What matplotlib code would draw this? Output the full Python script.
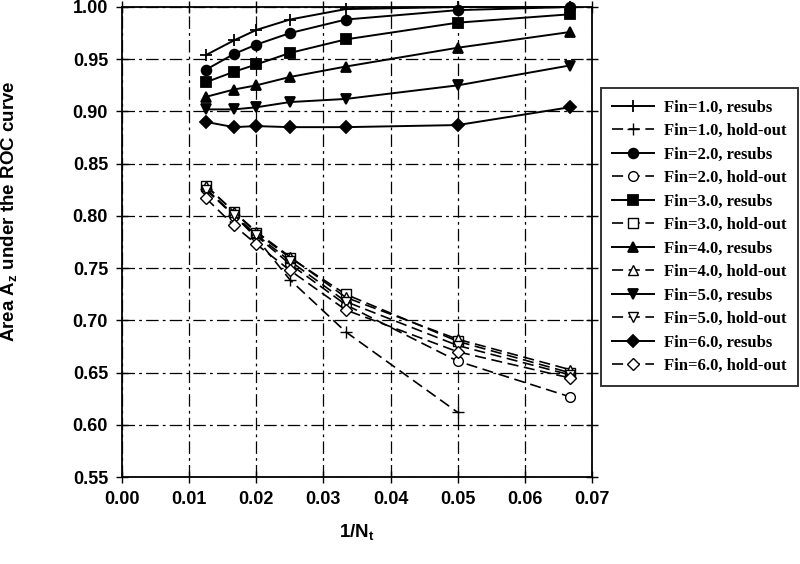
import matplotlib
matplotlib.use("Agg")
import matplotlib.pyplot as plt

# ----------------------------------------
# DATA
# ----------------------------------------
inv_nt = [1 / 80, 1 / 60, 1 / 50, 1 / 40, 1 / 30, 1 / 20, 1 / 15]

fin_labels = ["1.0", "2.0", "3.0", "4.0", "5.0", "6.0"]

resubs = [
    [0.954, 0.968, 0.978, 0.988, 0.998, 1.000, 1.000],
    [0.940, 0.955, 0.964, 0.975, 0.988, 0.997, 1.000],
    [0.928, 0.938, 0.945, 0.956, 0.969, 0.985, 0.993],
    [0.914, 0.921, 0.925, 0.933, 0.943, 0.961, 0.976],
    [0.902, 0.902, 0.904, 0.909, 0.912, 0.925, 0.944],
    [0.890, 0.885, 0.886, 0.885, 0.885, 0.887, 0.904],
]

holdout = [
    [0.826, 0.801, 0.779, 0.739, 0.689, 0.612],
    [0.826, 0.800, 0.781, 0.754, 0.715, 0.661, 0.627],
    [0.829, 0.804, 0.784, 0.760, 0.725, 0.680, 0.650],
    [0.829, 0.804, 0.785, 0.761, 0.722, 0.682, 0.653],
    [0.825, 0.801, 0.782, 0.757, 0.718, 0.676, 0.648],
    [0.817, 0.791, 0.773, 0.748, 0.710, 0.670, 0.645],
]

markers = ["+", "o", "s", "^", "v", "D"]
marker_sizes = [9, 7, 7, 7.5, 7.5, 6.5]

x_ticks = [0.00, 0.01, 0.02, 0.03, 0.04, 0.05, 0.06, 0.07]
y_ticks = [0.55, 0.60, 0.65, 0.70, 0.75, 0.80, 0.85, 0.90, 0.95, 1.00]

# ----------------------------------------
# STYLE
# ----------------------------------------
plt.rcParams["font.family"] = "Liberation Sans"
plt.rcParams["font.weight"] = "bold"
plt.rcParams["mathtext.fontset"] = "custom"
plt.rcParams["mathtext.rm"] = "Liberation Sans:bold"
plt.rcParams["mathtext.default"] = "rm"
plt.rcParams["lines.scale_dashes"] = False

fig = plt.figure(figsize=(8, 5.64), dpi=100)
ax = fig.add_axes([0.1525, 0.154, 0.5875, 0.8336])

# ----------------------------------------
# LINES
# ----------------------------------------
for i, fin in enumerate(fin_labels):
    ax.plot(inv_nt[:len(resubs[i])], resubs[i], color="black", lw=1.4,
            marker=markers[i], ms=marker_sizes[i], mfc="black", mec="black",
            mew=1.3, label=f"Fin={fin}, resubs", clip_on=False, zorder=3)
    ax.plot(inv_nt[:len(holdout[i])], holdout[i], color="black", lw=1.2,
            ls=(0, (8, 4)), marker=markers[i], ms=marker_sizes[i],
            mfc="white", mec="black", mew=1.0,
            label=f"Fin={fin}, hold-out", clip_on=False, zorder=3)

# ----------------------------------------
# AXES
# ----------------------------------------
ax.set_xlim(0, 0.07)
ax.set_ylim(0.55, 1.00)
ax.set_xticks(x_ticks)
ax.set_yticks(y_ticks)
ax.set_xticklabels([f"{v:.2f}" for v in x_ticks])
ax.set_yticklabels([f"{v:.2f}" for v in y_ticks])
ax.tick_params(axis="both", direction="inout", length=8, width=1,
               labelsize=13, top=True, right=True, pad=6)
ax.grid(True, color="black", lw=0.9, ls=(0, (9, 3, 2, 3)))
for s in ax.spines.values():
    s.set_linewidth(1.3)

ax.set_xlabel("1/N$_{t}$", fontsize=13.5, fontweight="bold", labelpad=10)
ax.set_ylabel("Area A$_{z}$ under the ROC curve", fontsize=13.5,
              fontweight="bold")
ax.yaxis.set_label_coords(-0.219, 0.566)

# ----------------------------------------
# LEGEND
# ----------------------------------------
leg = fig.legend(loc="upper left", bbox_to_anchor=(0.751, 0.844),
                 prop={"family": "Liberation Serif", "weight": "bold", "size": 12},
                 frameon=True, fancybox=False, shadow=False, edgecolor="black",
                 handlelength=2.5, handletextpad=0.6, borderpad=0.7,
                 labelspacing=0.45, borderaxespad=0)
leg.get_frame().set_linewidth(1.4)

fig.savefig("out.png", dpi=100)
